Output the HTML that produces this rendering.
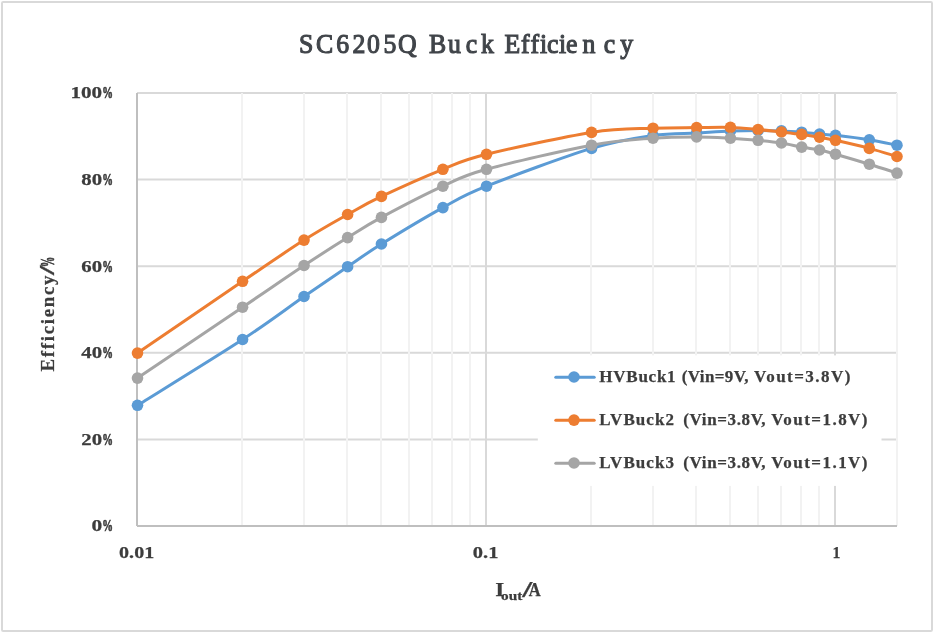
<!DOCTYPE html>
<html><head><meta charset="utf-8"><title>SC6205Q Buck Efficiency</title>
<style>
html,body{margin:0;padding:0;background:#fff;}
body{width:933px;height:632px;overflow:hidden;}
svg{display:block;}
text{font-family:"Liberation Serif",serif;fill:#3c3c3c;}
text.b{font-weight:bold;stroke:#3c3c3c;stroke-width:0.25;}
.p{stroke-width:0.7;}
.t text,text.t{font-weight:normal;fill:#41454a;stroke:#41454a;stroke-width:1.15;}
</style></head><body>
<svg width="933" height="632" viewBox="0 0 933 632">
<rect x="0" y="0" width="933" height="632" fill="#fff"/>
<rect x="2" y="2" width="930" height="629" rx="1.2" fill="none" stroke="#d9d9d9" stroke-width="2"/>
<line x1="137.00" y1="439.40" x2="897.00" y2="439.40" stroke="#d9d9d9" stroke-width="2"/>
<line x1="137.00" y1="352.80" x2="897.00" y2="352.80" stroke="#d9d9d9" stroke-width="2"/>
<line x1="137.00" y1="266.20" x2="897.00" y2="266.20" stroke="#d9d9d9" stroke-width="2"/>
<line x1="137.00" y1="179.60" x2="897.00" y2="179.60" stroke="#d9d9d9" stroke-width="2"/>
<line x1="137.00" y1="93.00" x2="897.00" y2="93.00" stroke="#d9d9d9" stroke-width="2"/>
<line x1="242.00" y1="93.00" x2="242.00" y2="526.00" stroke="#f2f2f2" stroke-width="2"/>
<line x1="304.00" y1="93.00" x2="304.00" y2="526.00" stroke="#f2f2f2" stroke-width="2"/>
<line x1="347.00" y1="93.00" x2="347.00" y2="526.00" stroke="#f2f2f2" stroke-width="2"/>
<line x1="381.00" y1="93.00" x2="381.00" y2="526.00" stroke="#f2f2f2" stroke-width="2"/>
<line x1="409.00" y1="93.00" x2="409.00" y2="526.00" stroke="#f2f2f2" stroke-width="2"/>
<line x1="432.00" y1="93.00" x2="432.00" y2="526.00" stroke="#f2f2f2" stroke-width="2"/>
<line x1="452.00" y1="93.00" x2="452.00" y2="526.00" stroke="#f2f2f2" stroke-width="2"/>
<line x1="470.00" y1="93.00" x2="470.00" y2="526.00" stroke="#f2f2f2" stroke-width="2"/>
<line x1="591.00" y1="93.00" x2="591.00" y2="526.00" stroke="#f2f2f2" stroke-width="2"/>
<line x1="653.00" y1="93.00" x2="653.00" y2="526.00" stroke="#f2f2f2" stroke-width="2"/>
<line x1="696.00" y1="93.00" x2="696.00" y2="526.00" stroke="#f2f2f2" stroke-width="2"/>
<line x1="730.00" y1="93.00" x2="730.00" y2="526.00" stroke="#f2f2f2" stroke-width="2"/>
<line x1="758.00" y1="93.00" x2="758.00" y2="526.00" stroke="#f2f2f2" stroke-width="2"/>
<line x1="781.00" y1="93.00" x2="781.00" y2="526.00" stroke="#f2f2f2" stroke-width="2"/>
<line x1="801.00" y1="93.00" x2="801.00" y2="526.00" stroke="#f2f2f2" stroke-width="2"/>
<line x1="819.00" y1="93.00" x2="819.00" y2="526.00" stroke="#f2f2f2" stroke-width="2"/>
<line x1="897.00" y1="93.00" x2="897.00" y2="526.00" stroke="#f2f2f2" stroke-width="2"/>
<line x1="486.00" y1="92.00" x2="486.00" y2="526.00" stroke="#d9d9d9" stroke-width="2"/>
<line x1="835.00" y1="92.00" x2="835.00" y2="526.00" stroke="#d9d9d9" stroke-width="2"/>
<rect x="537.8" y="355.4" width="343.7" height="130.5" fill="#fff"/>
<line x1="137.00" y1="93.00" x2="137.00" y2="526.00" stroke="#bfbfbf" stroke-width="2"/>
<line x1="137.00" y1="526.00" x2="897.00" y2="526.00" stroke="#bfbfbf" stroke-width="2"/>
<path d="M137.50,405.30 C155.01,394.33 214.81,357.63 242.56,339.50 C270.31,321.37 286.51,308.63 304.02,296.50 C321.53,284.37 334.71,275.45 347.62,266.70 C360.52,257.95 365.56,253.85 381.44,244.00 C397.32,234.15 425.39,217.23 442.90,207.60 C460.41,197.97 461.72,196.07 486.50,186.20 C511.28,176.33 563.81,156.85 591.56,148.40 C619.31,139.95 635.51,138.07 653.02,135.50 C670.53,132.93 683.71,133.73 696.62,133.00 C709.52,132.27 720.20,131.52 730.44,131.10 C740.68,130.68 749.58,130.53 758.07,130.50 C766.57,130.47 774.17,130.62 781.44,130.90 C788.71,131.18 795.33,131.68 801.68,132.20 C808.03,132.72 813.89,133.48 819.53,134.00 C825.17,134.52 827.20,134.33 835.50,135.30 C843.80,136.27 859.08,138.15 869.32,139.80 C879.56,141.45 892.35,144.30 896.96,145.20" fill="none" stroke="#5b9bd5" stroke-width="3" stroke-linecap="round" stroke-linejoin="round"/>
<circle cx="137.50" cy="405.30" r="5.8" fill="#5b9bd5"/>
<circle cx="242.56" cy="339.50" r="5.8" fill="#5b9bd5"/>
<circle cx="304.02" cy="296.50" r="5.8" fill="#5b9bd5"/>
<circle cx="347.62" cy="266.70" r="5.8" fill="#5b9bd5"/>
<circle cx="381.44" cy="244.00" r="5.8" fill="#5b9bd5"/>
<circle cx="442.90" cy="207.60" r="5.8" fill="#5b9bd5"/>
<circle cx="486.50" cy="186.20" r="5.8" fill="#5b9bd5"/>
<circle cx="591.56" cy="148.40" r="5.8" fill="#5b9bd5"/>
<circle cx="653.02" cy="135.50" r="5.8" fill="#5b9bd5"/>
<circle cx="696.62" cy="133.00" r="5.8" fill="#5b9bd5"/>
<circle cx="730.44" cy="131.10" r="5.8" fill="#5b9bd5"/>
<circle cx="758.07" cy="130.50" r="5.8" fill="#5b9bd5"/>
<circle cx="781.44" cy="130.90" r="5.8" fill="#5b9bd5"/>
<circle cx="801.68" cy="132.20" r="5.8" fill="#5b9bd5"/>
<circle cx="819.53" cy="134.00" r="5.8" fill="#5b9bd5"/>
<circle cx="835.50" cy="135.30" r="5.8" fill="#5b9bd5"/>
<circle cx="869.32" cy="139.80" r="5.8" fill="#5b9bd5"/>
<circle cx="896.96" cy="145.20" r="5.8" fill="#5b9bd5"/>
<path d="M137.50,353.10 C155.01,341.13 214.81,300.13 242.56,281.30 C270.31,262.47 286.51,251.23 304.02,240.10 C321.53,228.97 334.71,221.78 347.62,214.50 C360.52,207.22 365.56,203.93 381.44,196.40 C397.32,188.87 425.39,176.32 442.90,169.30 C460.41,162.28 461.72,160.45 486.50,154.30 C511.28,148.15 563.81,136.75 591.56,132.40 C619.31,128.05 635.51,129.00 653.02,128.20 C670.53,127.40 683.71,127.73 696.62,127.60 C709.52,127.47 720.20,127.08 730.44,127.40 C740.68,127.72 749.58,128.73 758.07,129.50 C766.57,130.27 774.17,131.18 781.44,132.00 C788.71,132.82 795.33,133.53 801.68,134.40 C808.03,135.27 813.89,136.22 819.53,137.20 C825.17,138.18 827.20,138.43 835.50,140.30 C843.80,142.17 859.08,145.70 869.32,148.40 C879.56,151.10 892.35,155.15 896.96,156.50" fill="none" stroke="#ed7d31" stroke-width="3" stroke-linecap="round" stroke-linejoin="round"/>
<circle cx="137.50" cy="353.10" r="5.8" fill="#ed7d31"/>
<circle cx="242.56" cy="281.30" r="5.8" fill="#ed7d31"/>
<circle cx="304.02" cy="240.10" r="5.8" fill="#ed7d31"/>
<circle cx="347.62" cy="214.50" r="5.8" fill="#ed7d31"/>
<circle cx="381.44" cy="196.40" r="5.8" fill="#ed7d31"/>
<circle cx="442.90" cy="169.30" r="5.8" fill="#ed7d31"/>
<circle cx="486.50" cy="154.30" r="5.8" fill="#ed7d31"/>
<circle cx="591.56" cy="132.40" r="5.8" fill="#ed7d31"/>
<circle cx="653.02" cy="128.20" r="5.8" fill="#ed7d31"/>
<circle cx="696.62" cy="127.60" r="5.8" fill="#ed7d31"/>
<circle cx="730.44" cy="127.40" r="5.8" fill="#ed7d31"/>
<circle cx="758.07" cy="129.50" r="5.8" fill="#ed7d31"/>
<circle cx="781.44" cy="132.00" r="5.8" fill="#ed7d31"/>
<circle cx="801.68" cy="134.40" r="5.8" fill="#ed7d31"/>
<circle cx="819.53" cy="137.20" r="5.8" fill="#ed7d31"/>
<circle cx="835.50" cy="140.30" r="5.8" fill="#ed7d31"/>
<circle cx="869.32" cy="148.40" r="5.8" fill="#ed7d31"/>
<circle cx="896.96" cy="156.50" r="5.8" fill="#ed7d31"/>
<path d="M137.50,378.10 C155.01,366.28 214.81,325.97 242.56,307.20 C270.31,288.43 286.51,277.10 304.02,265.50 C321.53,253.90 334.71,245.62 347.62,237.60 C360.52,229.58 365.56,225.97 381.44,217.40 C397.32,208.83 425.39,194.22 442.90,186.20 C460.41,178.18 461.72,176.13 486.50,169.30 C511.28,162.47 563.81,150.38 591.56,145.20 C619.31,140.02 635.51,139.58 653.02,138.20 C670.53,136.82 683.71,136.90 696.62,136.90 C709.52,136.90 720.20,137.63 730.44,138.20 C740.68,138.77 749.58,139.50 758.07,140.30 C766.57,141.10 774.17,141.87 781.44,143.00 C788.71,144.13 795.33,145.93 801.68,147.10 C808.03,148.27 813.89,148.82 819.53,150.00 C825.17,151.18 827.20,151.83 835.50,154.20 C843.80,156.57 859.08,161.05 869.32,164.20 C879.56,167.35 892.35,171.62 896.96,173.10" fill="none" stroke="#a5a5a5" stroke-width="3" stroke-linecap="round" stroke-linejoin="round"/>
<circle cx="137.50" cy="378.10" r="5.8" fill="#a5a5a5"/>
<circle cx="242.56" cy="307.20" r="5.8" fill="#a5a5a5"/>
<circle cx="304.02" cy="265.50" r="5.8" fill="#a5a5a5"/>
<circle cx="347.62" cy="237.60" r="5.8" fill="#a5a5a5"/>
<circle cx="381.44" cy="217.40" r="5.8" fill="#a5a5a5"/>
<circle cx="442.90" cy="186.20" r="5.8" fill="#a5a5a5"/>
<circle cx="486.50" cy="169.30" r="5.8" fill="#a5a5a5"/>
<circle cx="591.56" cy="145.20" r="5.8" fill="#a5a5a5"/>
<circle cx="653.02" cy="138.20" r="5.8" fill="#a5a5a5"/>
<circle cx="696.62" cy="136.90" r="5.8" fill="#a5a5a5"/>
<circle cx="730.44" cy="138.20" r="5.8" fill="#a5a5a5"/>
<circle cx="758.07" cy="140.30" r="5.8" fill="#a5a5a5"/>
<circle cx="781.44" cy="143.00" r="5.8" fill="#a5a5a5"/>
<circle cx="801.68" cy="147.10" r="5.8" fill="#a5a5a5"/>
<circle cx="819.53" cy="150.00" r="5.8" fill="#a5a5a5"/>
<circle cx="835.50" cy="154.20" r="5.8" fill="#a5a5a5"/>
<circle cx="869.32" cy="164.20" r="5.8" fill="#a5a5a5"/>
<circle cx="896.96" cy="173.10" r="5.8" fill="#a5a5a5"/>
<line x1="555.8" y1="377.20" x2="594.2" y2="377.20" stroke="#5b9bd5" stroke-width="3" stroke-linecap="round"/>
<circle cx="574" cy="377.00" r="5.8" fill="#5b9bd5"/>
<text class="b"><tspan x="599.30" y="382.20" font-size="17.00" textLength="76.30" lengthAdjust="spacing">HVBuck1</tspan> <tspan x="681.70" y="382.20" font-size="17.00" textLength="66.80" lengthAdjust="spacing">(Vin=9V,</tspan> <tspan x="754.10" y="382.20" font-size="17.00" textLength="96.20" lengthAdjust="spacing">Vout=3.8V)</tspan></text>
<line x1="555.8" y1="420.30" x2="594.2" y2="420.30" stroke="#ed7d31" stroke-width="3" stroke-linecap="round"/>
<circle cx="574" cy="420.10" r="5.8" fill="#ed7d31"/>
<text class="b"><tspan x="599.30" y="425.30" font-size="17.00" textLength="74.60" lengthAdjust="spacing">LVBuck2</tspan> <tspan x="683.30" y="425.30" font-size="17.00" textLength="82.30" lengthAdjust="spacing">(Vin=3.8V,</tspan> <tspan x="771.20" y="425.30" font-size="17.00" textLength="96.30" lengthAdjust="spacing">Vout=1.8V)</tspan></text>
<line x1="555.8" y1="463.20" x2="594.2" y2="463.20" stroke="#a5a5a5" stroke-width="3" stroke-linecap="round"/>
<circle cx="574" cy="463.00" r="5.8" fill="#a5a5a5"/>
<text class="b"><tspan x="599.30" y="468.20" font-size="17.00" textLength="74.60" lengthAdjust="spacing">LVBuck3</tspan> <tspan x="683.30" y="468.20" font-size="17.00" textLength="82.30" lengthAdjust="spacing">(Vin=3.8V,</tspan> <tspan x="771.20" y="468.20" font-size="17.00" textLength="96.30" lengthAdjust="spacing">Vout=1.1V)</tspan></text>
<text class="b"><tspan x="91.40" y="531.40" font-size="17.60" textLength="10.70" lengthAdjust="spacingAndGlyphs">0</tspan><tspan x="102.30" y="531.40" font-size="17.60" textLength="10.70" lengthAdjust="spacingAndGlyphs" class="p">%</tspan></text>
<text class="b"><tspan x="81.30" y="444.80" font-size="17.60" textLength="20.80" lengthAdjust="spacingAndGlyphs">20</tspan><tspan x="102.30" y="444.80" font-size="17.60" textLength="10.70" lengthAdjust="spacingAndGlyphs" class="p">%</tspan></text>
<text class="b"><tspan x="81.30" y="358.20" font-size="17.60" textLength="20.80" lengthAdjust="spacingAndGlyphs">40</tspan><tspan x="102.30" y="358.20" font-size="17.60" textLength="10.70" lengthAdjust="spacingAndGlyphs" class="p">%</tspan></text>
<text class="b"><tspan x="81.30" y="271.60" font-size="17.60" textLength="20.80" lengthAdjust="spacingAndGlyphs">60</tspan><tspan x="102.30" y="271.60" font-size="17.60" textLength="10.70" lengthAdjust="spacingAndGlyphs" class="p">%</tspan></text>
<text class="b"><tspan x="81.30" y="185.00" font-size="17.60" textLength="20.80" lengthAdjust="spacingAndGlyphs">80</tspan><tspan x="102.30" y="185.00" font-size="17.60" textLength="10.70" lengthAdjust="spacingAndGlyphs" class="p">%</tspan></text>
<text class="b"><tspan x="70.40" y="98.40" font-size="17.60" textLength="31.70" lengthAdjust="spacingAndGlyphs">100</tspan><tspan x="102.30" y="98.40" font-size="17.60" textLength="10.70" lengthAdjust="spacingAndGlyphs" class="p">%</tspan></text>
<text class="b"><tspan x="119.10" y="557.80" font-size="17.60" textLength="35.10" lengthAdjust="spacingAndGlyphs">0.01</tspan></text>
<text class="b"><tspan x="472.80" y="557.80" font-size="17.60" textLength="25.60" lengthAdjust="spacingAndGlyphs">0.1</tspan></text>
<text class="b"><tspan x="832.60" y="557.80" font-size="17.60" textLength="7.90" lengthAdjust="spacingAndGlyphs">1</tspan></text>
<text class="t" font-size="28" transform="translate(0,53.4) scale(0.920,1)" x="324.89 343.37 365.43 383.26 399.02 416.85 432.50 441.20 466.41 486.96 506.20 522.83 531.52 548.48 566.41 576.63 586.96 594.67 607.50 615.11 633.04 656.20 674.13">SC6205Q Buck Efficiency</text>
<text class="b"><tspan x="495.30" y="595.60" font-size="19.50" textLength="9.00" lengthAdjust="spacingAndGlyphs">I</tspan><tspan x="501.10" y="599.50" font-size="13.50" textLength="21.20" lengthAdjust="spacingAndGlyphs">out</tspan><tspan x="522.30" y="596.60" font-size="23.00" textLength="10.00" lengthAdjust="spacingAndGlyphs">/</tspan><tspan x="528.70" y="595.60" font-size="19.50" textLength="11.90" lengthAdjust="spacingAndGlyphs">A</tspan></text>
<text class="b" transform="translate(54,371.4) rotate(-90)"><tspan x="0.00" y="0.00" font-size="18.80" textLength="95.80" lengthAdjust="spacing">Efficiency</tspan><tspan x="96.40" y="0.00" font-size="20.00" textLength="9.50" lengthAdjust="spacingAndGlyphs">/</tspan><tspan x="104.40" y="0.00" font-size="18.80" textLength="10.30" lengthAdjust="spacingAndGlyphs" class="p">%</tspan></text>
</svg>
</body></html>
